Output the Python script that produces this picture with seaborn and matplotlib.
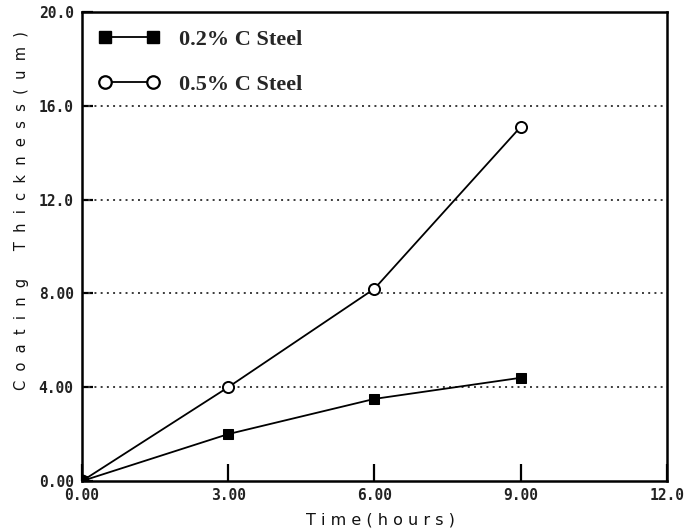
import matplotlib
matplotlib.use("Agg")
import matplotlib.pyplot as plt
from matplotlib.lines import Line2D
import seaborn as sns
import pandas as pd

# Coating thickness (um) measured after each treatment time (hours)
time_hours = [0.0, 3.0, 6.0, 9.0]
steel_02 = [0.0, 2.0, 3.5, 4.4]
steel_05 = [0.0, 4.0, 8.2, 15.1]
series_names = ["0.2% C Steel", "0.5% C Steel"]

x_ticks = [0.0, 3.0, 6.0, 9.0, 12.0]
x_tick_labels = ["0.00", "3.00", "6.00", "9.00", "12.0"]
y_ticks = [0.0, 4.0, 8.0, 12.0, 16.0, 20.0]
y_tick_labels = ["0.00", "4.00", "8.00", "12.0", "16.0", "20.0"]

df = pd.DataFrame({
    "time": time_hours * 2,
    "thickness": steel_02 + steel_05,
    "steel": [series_names[0]] * len(time_hours) + [series_names[1]] * len(time_hours),
})

sns.set_style("white")
plt.rcParams["font.family"] = ["DejaVu Sans"]

fig = plt.figure(figsize=(6.84, 5.30), dpi=100)
ax = fig.add_axes([0.120, 0.0925, 0.855, 0.885])

# horizontal dotted reference lines
for yv in y_ticks[1:-1]:
    ax.axhline(yv, color="#3a3a3a", lw=1.4, ls=(0, (1, 2.2)), zorder=1)

d02 = df[df["steel"] == series_names[0]]
d05 = df[df["steel"] == series_names[1]]
sns.lineplot(data=d02, x="time", y="thickness", ax=ax, color="black", lw=1.3,
             marker="s", markersize=6.5, markerfacecolor="black",
             markeredgecolor="black", legend=False, zorder=3)
sns.lineplot(data=d05, x="time", y="thickness", ax=ax, color="black", lw=1.3,
             marker="o", markersize=8, markerfacecolor="white",
             markeredgecolor="black", markeredgewidth=1.4, legend=False, zorder=4)
ax.plot([0], [0], marker="o", markersize=9, color="black", zorder=5)

ax.set_xlim(0, 12)
ax.set_ylim(0, 20)
ax.set_xticks(x_ticks)
ax.set_xticklabels(x_tick_labels)
ax.set_yticks(y_ticks)
ax.set_yticklabels(y_tick_labels)

for lab in ax.get_xticklabels() + ax.get_yticklabels():
    lab.set_fontfamily("DejaVu Sans Mono")
    lab.set_fontweight("bold")
    lab.set_fontsize(10.5)
    lab.set_color("#222222")

ax.tick_params(axis="x", direction="in", length=12, width=1.6, color="black", pad=5)
ax.tick_params(axis="y", direction="in", length=8, width=1.6, color="black", pad=6)
ax.tick_params(left=True, bottom=True, top=False, right=False)

for sp in ax.spines.values():
    sp.set_visible(True)
    sp.set_color("black")
    sp.set_linewidth(1.8)

ax.set_xlabel("T i m e ( h o u r s )", fontsize=11.5, color="#111111")
ax.xaxis.set_label_coords(0.51, -0.068)
ax.set_ylabel("C  o  a  t  i  n  g      T  h  i  c  k  n  e  s  s  (  u  m  )",
              fontsize=10.5, color="#111111")
ax.yaxis.set_label_coords(-0.09, 0.576)

handles = [
    Line2D([0, 1], [0, 0], color="black", lw=1.3, marker="s", markersize=9,
           markerfacecolor="black", markeredgecolor="black"),
    Line2D([0, 1], [0, 0], color="black", lw=1.3, marker="o", markersize=9,
           markerfacecolor="white", markeredgecolor="black", markeredgewidth=1.6),
]
ax.legend(handles, series_names, loc="upper left", bbox_to_anchor=(0.002, 0.996),
          frameon=False, numpoints=2, handlelength=2.72, handletextpad=0.87,
          labelspacing=1.1, borderaxespad=0.3,
          prop=dict(family="Liberation Serif", weight="bold", size=16))

fig.savefig("out.png", dpi=100)
